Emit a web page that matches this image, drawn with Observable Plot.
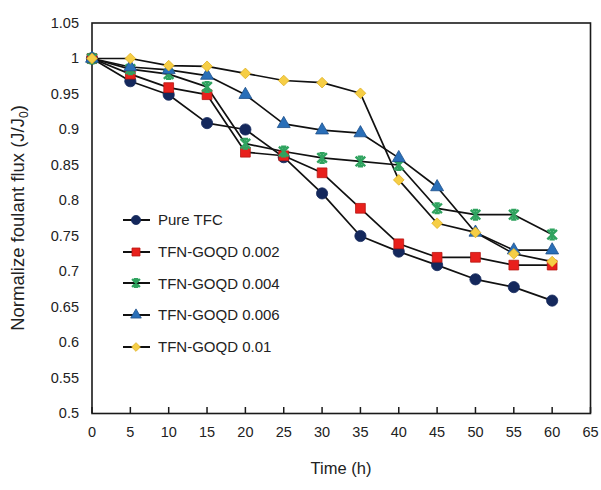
<!DOCTYPE html>
<html>
<head>
<meta charset="utf-8">
<script src="https://cdn.jsdelivr.net/npm/d3@7"></script>
<script src="https://cdn.jsdelivr.net/npm/@observablehq/plot@0.6"></script>
<style>
  html, body { margin: 0; padding: 0; background: #fff; }
  #wrap { position: relative; width: 601px; height: 490px; font-family: "Liberation Sans", Arial, sans-serif; }
  #legend { position: absolute; left: 120px; top: 204px; font-size: 15px; color: #222; }
  .row { display: flex; align-items: center; height: 31.7px; }
  .row svg { display: block; margin-right: 4px; }
</style>
</head>
<body>
<div id="wrap"><div id="legend"></div></div>
<script>
const hours = [0, 5, 10, 15, 20, 25, 30, 35, 40, 45, 50, 55, 60];
const seriesNames = ["Pure TFC", "TFN-GOQD 0.002", "TFN-GOQD 0.004", "TFN-GOQD 0.006", "TFN-GOQD 0.01"];
const pureTFC  = [1, 0.968, 0.949, 0.909, 0.900, 0.861, 0.810, 0.750, 0.728, 0.709, 0.689, 0.678, 0.659];
const goqd002  = [1, 0.978, 0.959, 0.949, 0.868, 0.863, 0.839, 0.789, 0.739, 0.720, 0.720, 0.709, 0.709];
const goqd004  = [1, 0.985, 0.978, 0.960, 0.880, 0.869, 0.860, 0.855, 0.850, 0.789, 0.780, 0.780, 0.752];
const goqd006  = [1, 0.988, 0.984, 0.976, 0.949, 0.908, 0.899, 0.895, 0.860, 0.819, 0.755, 0.730, 0.730];
const goqd01   = [1, 1.000, 0.990, 0.989, 0.979, 0.969, 0.966, 0.951, 0.829, 0.768, 0.755, 0.725, 0.714];
const seriesValues = [pureTFC, goqd002, goqd004, goqd006, goqd01];
const xTicks = [0, 5, 10, 15, 20, 25, 30, 35, 40, 45, 50, 55, 60, 65];
const yTicks = [0.5, 0.55, 0.6, 0.65, 0.7, 0.75, 0.8, 0.85, 0.9, 0.95, 1, 1.05];
const xTitle = "Time (h)";
const yTitle = "Normalize foulant flux (J/J";
const yTitleSub = "0";

const fills   = ["#14285c", "#e8201c", "#2fa35f", "#2a6fb8", "#f6ce46"];
const strokes = ["#14285c", "#b81612", "#2fa35f", "#1d4f8a", "#e0b020"];

// Excel-like "star" marker (asterisk with caps)
const starSymbol = {
  draw(ctx, size) {
    const r = Math.sqrt(size / Math.PI);
    ctx.moveTo(-r, -r); ctx.lineTo(r, r);
    ctx.moveTo(r, -r); ctx.lineTo(-r, r);
    ctx.moveTo(0, -r); ctx.lineTo(0, r);
    ctx.moveTo(-r * 0.55, -r); ctx.lineTo(r * 0.55, -r);
    ctx.moveTo(-r * 0.55, r); ctx.lineTo(r * 0.55, r);
  }
};
const symbols = ["circle", "square", starSymbol, "triangle", "diamond2"];
const radii = [5.6, 5.5, 4.8, 4.8, 4.8];

const rows = seriesNames.flatMap((name, i) => hours.map((t, j) => ({series: name, idx: i, t, v: seriesValues[i][j]})));

const marks = [
  Plot.frame({stroke: "#1a1a1a", strokeWidth: 1.6}),
  Plot.axisX({ticks: xTicks, tickSize: -6, tickPadding: 19, fontSize: 14.5, label: null, stroke: "#1a1a1a", strokeWidth: 1.5, tickFormat: d => String(d)}),
  Plot.axisY({ticks: yTicks, tickSize: 0, tickPadding: 13, fontSize: 14.5, label: null, tickFormat: d => String(+d.toFixed(2))}),
  Plot.line(rows, {x: "t", y: "v", z: "series", stroke: "#111", strokeWidth: 1.7})
];
seriesNames.forEach((name, i) => {
  const data = rows.filter(d => d.idx === i);
  if (i === 2) {
    marks.push(Plot.dot(data, {x: "t", y: "v", symbol: symbols[i], r: radii[i], fill: "none", stroke: fills[i], strokeWidth: 2.4}));
  } else {
    marks.push(Plot.dot(data, {x: "t", y: "v", symbol: symbols[i], r: radii[i], fill: fills[i], stroke: strokes[i], strokeWidth: 0.8}));
  }
});

const chart = Plot.plot({
  width: 601,
  height: 490,
  marginLeft: 91.5,
  marginRight: 11,
  marginTop: 22.5,
  marginBottom: 77,
  style: {fontFamily: "'Liberation Sans', Arial, sans-serif", fontSize: "14.5px", color: "#222", background: "white"},
  x: {domain: [0, 65], label: null},
  y: {domain: [0.5, 1.05], label: null},
  marks
});

// Axis titles as real SVG text
const svg = d3.select(chart);
svg.append("text")
  .attr("x", 341).attr("y", 474)
  .attr("text-anchor", "middle")
  .attr("font-size", 16.5).attr("fill", "#222")
  .text(xTitle);
const yt = svg.append("text")
  .attr("transform", "translate(24,218) rotate(-90)")
  .attr("text-anchor", "middle")
  .attr("font-size", 18.5).attr("fill", "#222");
yt.append("tspan").text(yTitle);
yt.append("tspan").attr("font-size", 12).attr("dy", 4).text(yTitleSub);
yt.append("tspan").attr("dy", -4).text(")");

document.getElementById("wrap").prepend(chart);

// Legend
const legend = d3.select("#legend");
seriesNames.forEach((name, i) => {
  const row = legend.append("div").attr("class", "row");
  const s = row.append("svg").attr("width", 34).attr("height", 16);
  s.append("line").attr("x1", 3).attr("x2", 30).attr("y1", 8).attr("y2", 8).attr("stroke", "#111").attr("stroke-width", 2);
  const sym = typeof symbols[i] === "string"
    ? ({circle: d3.symbolCircle, square: d3.symbolSquare, triangle: d3.symbolTriangle, diamond2: d3.symbolDiamond2})[symbols[i]]
    : symbols[i];
  const r = radii[i] * 0.82;
  s.append("path")
    .attr("transform", "translate(16,8)")
    .attr("d", d3.symbol(sym, Math.PI * r * r)())
    .attr("fill", i === 2 ? "none" : fills[i])
    .attr("stroke", i === 2 ? fills[i] : strokes[i])
    .attr("stroke-width", i === 2 ? 2.2 : 0.8);
  row.append("span").text(name);
});
</script>
</body>
</html>
